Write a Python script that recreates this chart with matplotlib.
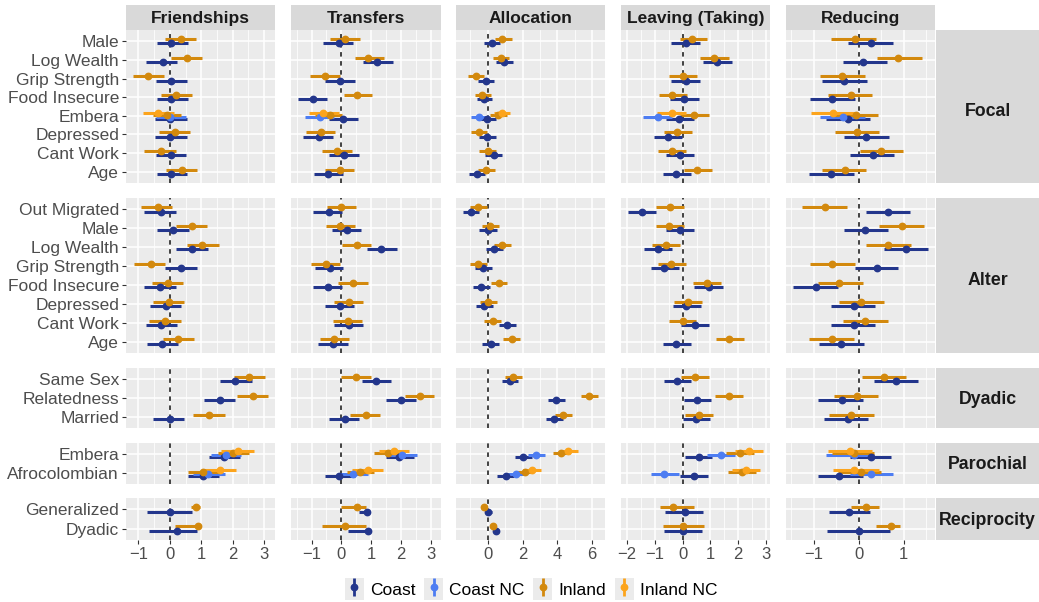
import numpy as np
import matplotlib.pyplot as plt
from matplotlib.lines import Line2D
from matplotlib.patches import Patch
from matplotlib.ticker import MultipleLocator

plt.rcParams['font.family'] = ['Liberation Sans', 'DejaVu Sans']

outcomes = ["Friendships", "Transfers", "Allocation", "Leaving (Taking)", "Reducing"]
groups = ["Focal", "Alter", "Dyadic", "Parochial", "Reciprocity"]
focal_vars = ["Male", "Log Wealth", "Grip Strength", "Food Insecure", "Embera",
              "Depressed", "Cant Work", "Age"]
alter_vars = ["Out Migrated", "Male", "Log Wealth", "Grip Strength", "Food Insecure",
              "Depressed", "Cant Work", "Age"]
dyadic_vars = ["Same Sex", "Relatedness", "Married"]
parochial_vars = ["Embera", "Afrocolombian"]
recip_vars = ["Generalized", "Dyadic"]
group_vars = [focal_vars, alter_vars, dyadic_vars, parochial_vars, recip_vars]

# rows that also have the "NC" series: (group, variable)
nc_rows = [("Focal", "Embera"), ("Parochial", "Embera"), ("Parochial", "Afrocolombian")]

series = ["Coast", "Coast NC", "Inland", "Inland NC"]
colors = {"Coast": "#23368c", "Coast NC": "#4d7df2", "Inland": "#d3890d", "Inland NC": "#fca41c"}

# (estimate, lower, upper), rows in order focal, alter, dyadic, parochial, reciprocity
friend_coast = [(0.05, -0.4, 0.58), (-0.21, -0.76, 0.24), (0.03, -0.45, 0.55), (0.05, -0.42, 0.58),
                (0.0, -0.47, 0.53), (0.0, -0.47, 0.53), (0.03, -0.45, 0.52), (0.05, -0.42, 0.56),
                (-0.28, -0.81, 0.19), (0.11, -0.4, 0.6), (0.71, 0.21, 1.21), (0.37, -0.14, 0.86),
                (-0.32, -0.82, 0.18), (-0.13, -0.63, 0.37), (-0.28, -0.77, 0.23), (-0.24, -0.72, 0.26),
                (2.07, 1.58, 2.6), (1.6, 1.1, 2.08), (0.02, -0.55, 0.45),
                (1.73, 1.26, 2.22), (1.04, 0.58, 1.55),
                (0.0, -0.74, 0.7), (0.24, -0.66, 0.86)]
friend_inland = [(0.37, -0.16, 0.84), (0.53, 0.03, 1.02), (-0.68, -1.18, -0.18), (0.18, -0.29, 0.71),
                 (-0.1, -0.55, 0.35), (0.16, -0.34, 0.65), (-0.29, -0.82, 0.19), (0.39, -0.13, 0.87),
                 (-0.39, -0.93, 0.08), (0.69, 0.19, 1.19), (1.02, 0.55, 1.55), (-0.61, -1.13, -0.14),
                 (-0.07, -0.58, 0.42), (-0.03, -0.53, 0.45), (-0.16, -0.65, 0.35), (0.26, -0.23, 0.77),
                 (2.53, 2.05, 3.02), (2.63, 2.14, 3.13), (1.26, 0.74, 1.74),
                 (2.0, 1.53, 2.53), (1.05, 0.58, 1.53),
                 (0.84, 0.68, 0.95), (0.89, 0.16, 0.95)]
friend_coast_nc = [(0.02, -0.45, 0.52), (1.78, 1.3, 2.25), (1.21, 0.74, 1.74)]
friend_inland_nc = [(-0.37, -0.86, 0.13), (2.16, 1.63, 2.68), (1.58, 1.05, 2.1)]

transfer_coast = [(-0.09, -0.6, 0.38), (1.2, 0.73, 1.73), (-0.06, -0.54, 0.44), (-0.96, -1.46, -0.48),
                  (0.06, -0.43, 0.55), (-0.74, -1.27, -0.28), (0.08, -0.4, 0.58), (-0.45, -0.93, 0.06),
                  (-0.43, -0.96, 0.02), (0.19, -0.31, 0.67), (1.34, 0.87, 1.85), (-0.39, -0.88, 0.06),
                  (-0.46, -0.96, 0.02), (-0.03, -0.56, 0.42), (0.25, -0.26, 0.73), (-0.29, -0.79, 0.21),
                  (1.17, 0.7, 1.67), (1.99, 1.48, 2.49), (0.11, -0.43, 0.58),
                  (1.93, 1.48, 2.43), (-0.09, -0.56, 0.44),
                  (0.87, 0.6, 0.95), (0.89, 0.22, 0.95)]
transfer_inland = [(0.13, -0.37, 0.64), (0.89, 0.44, 1.43), (-0.56, -1.04, -0.06), (0.53, 0.08, 1.03),
                   (-0.39, -0.88, 0.02), (-0.69, -1.18, -0.2), (-0.15, -0.65, 0.36), (-0.06, -0.54, 0.42),
                   (0.0, -0.48, 0.49), (-0.03, -0.52, 0.47), (0.51, 0.02, 1.0), (-0.52, -1.01, -0.03),
                   (0.38, -0.11, 0.89), (0.25, -0.26, 0.73), (0.21, -0.28, 0.7), (-0.24, -0.73, 0.25),
                   (0.49, 0.0, 0.98), (2.63, 2.13, 3.11), (0.83, 0.3, 1.29),
                   (1.55, 1.1, 2.05), (0.64, 0.2, 1.1),
                   (0.51, 0.0, 0.84), (0.13, -0.65, 0.84)]
transfer_coast_nc = [(-0.73, -1.21, -0.26), (2.02, 1.52, 2.55), (0.38, -0.09, 0.89)]
transfer_inland_nc = [(-0.6, -1.1, -0.09), (1.75, 1.25, 2.27), (0.89, 0.36, 1.39)]

alloc_coast = [(0.27, -0.21, 0.71), (0.94, 0.48, 1.44), (-0.1, -0.57, 0.38), (-0.21, -0.63, 0.27),
               (-0.02, -0.48, 0.48), (-0.06, -0.5, 0.46), (0.33, -0.15, 0.84), (-0.63, -1.07, -0.15),
               (-0.96, -1.44, -0.48), (0.0, -0.48, 0.52), (0.38, -0.1, 0.86), (-0.25, -0.73, 0.27),
               (-0.38, -0.86, 0.1), (-0.19, -0.67, 0.29), (1.13, 0.65, 1.61), (0.17, -0.34, 0.67),
               (1.28, 0.8, 1.76), (3.93, 3.49, 4.44), (3.81, 3.33, 4.31),
               (2.05, 1.57, 2.53), (1.03, 0.55, 1.51),
               (0.04, -0.15, 0.23), (0.48, 0.33, 0.61)]
alloc_inland = [(0.84, 0.42, 1.38), (0.77, 0.29, 1.25), (-0.67, -1.15, -0.19), (-0.31, -0.73, 0.19),
                (0.61, 0.13, 1.09), (-0.5, -0.96, -0.06), (0.0, -0.48, 0.48), (-0.1, -0.54, 0.42),
                (-0.57, -1.05, -0.06), (0.13, -0.34, 0.65), (0.84, 0.38, 1.34), (-0.54, -1.02, -0.06),
                (0.65, 0.17, 1.13), (0.04, -0.44, 0.52), (0.29, -0.19, 0.77), (1.38, 0.9, 1.86),
                (1.48, 1.0, 1.95), (5.84, 5.36, 6.36), (4.35, 3.87, 4.83),
                (4.21, 3.73, 4.71), (2.15, 1.67, 2.63),
                (-0.21, -0.35, -0.06), (0.29, 0.13, 0.42)]
alloc_coast_nc = [(-0.48, -0.96, -0.01), (2.76, 2.3, 3.3), (1.63, 1.15, 2.11)]
alloc_inland_nc = [(0.8, 0.33, 1.28), (4.64, 4.16, 5.2), (2.53, 2.05, 3.06)]

leave_coast = [(0.11, -0.41, 0.61), (1.22, 0.72, 1.76), (0.13, -0.41, 0.63), (0.03, -0.45, 0.59),
               (-0.13, -0.6, 0.41), (-0.54, -1.05, -0.03), (-0.09, -0.59, 0.41), (-0.23, -0.71, 0.29),
               (-1.46, -1.98, -0.96), (-0.09, -0.59, 0.42), (-0.9, -1.4, -0.39), (-0.66, -1.16, -0.15),
               (0.93, 0.42, 1.44), (0.13, -0.35, 0.66), (0.45, -0.05, 0.95), (-0.23, -0.71, 0.3),
               (-0.19, -0.69, 0.3), (0.53, 0.03, 1.02), (0.48, 0.0, 0.99),
               (0.57, 0.07, 1.07), (0.41, -0.09, 0.91),
               (0.09, -0.65, 0.72), (0.0, -0.69, 0.71)]
leave_inland = [(0.33, -0.11, 0.89), (1.14, 0.63, 1.67), (0.0, -0.48, 0.53), (-0.39, -0.87, 0.15),
                (0.41, -0.1, 0.93), (-0.19, -0.69, 0.33), (-0.39, -0.89, 0.11), (0.53, 0.03, 1.05),
                (-0.45, -0.95, 0.03), (-0.48, -0.96, 0.03), (-0.6, -1.11, -0.11), (-0.41, -0.9, 0.11),
                (0.87, 0.36, 1.37), (0.19, -0.3, 0.69), (0.0, -0.51, 0.48), (1.68, 1.2, 2.2),
                (0.45, -0.05, 0.96), (1.68, 1.16, 2.18), (0.59, 0.09, 1.1),
                (2.06, 1.56, 2.57), (2.12, 1.64, 2.63),
                (-0.36, -0.83, 0.42), (0.0, -0.71, 0.75)]
leave_coast_nc = [(-0.9, -1.43, -0.39), (1.37, 0.89, 1.88), (-0.66, -1.14, -0.15)]
leave_inland_nc = [(-0.4, -0.92, 0.1), (2.38, 1.88, 2.9), (2.28, 1.77, 2.78)]

reduce_coast = [(0.27, -0.24, 0.76), (0.1, -0.35, 0.63), (-0.32, -0.81, 0.18), (-0.59, -1.08, -0.09),
                (-0.24, -0.72, 0.26), (0.17, -0.32, 0.68), (0.31, -0.2, 0.79), (-0.61, -1.09, -0.11),
                (0.66, 0.16, 1.14), (0.15, -0.33, 0.66), (1.04, 0.55, 1.54), (0.4, -0.09, 0.88),
                (-0.94, -1.46, -0.46), (-0.11, -0.61, 0.37), (-0.11, -0.61, 0.37), (-0.39, -0.88, 0.11),
                (0.82, 0.35, 1.32), (-0.38, -0.9, 0.09), (-0.24, -0.77, 0.21),
                (0.27, -0.2, 0.72), (-0.43, -0.9, 0.09),
                (-0.22, -0.65, 0.24), (0.0, -0.7, 0.7)]
reduce_inland = [(-0.09, -0.61, 0.38), (0.88, 0.4, 1.4), (-0.38, -0.86, 0.13), (-0.18, -0.68, 0.29),
                 (-0.07, -0.55, 0.42), (-0.04, -0.53, 0.46), (0.49, 0.02, 0.99), (-0.31, -0.81, 0.17),
                 (-0.75, -1.26, -0.27), (0.97, 0.46, 1.45), (0.64, 0.17, 1.15), (-0.6, -1.08, -0.09),
                 (-0.43, -0.9, 0.09), (0.06, -0.43, 0.57), (0.15, -0.35, 0.64), (-0.6, -1.1, -0.11),
                 (0.55, 0.07, 1.05), (-0.04, -0.55, 0.43), (-0.16, -0.66, 0.33),
                 (-0.11, -0.6, 0.35), (0.04, -0.45, 0.5),
                 (0.17, -0.16, 0.46), (0.71, 0.38, 0.92)]
reduce_coast_nc = [(-0.35, -0.86, 0.15), (-0.1, -0.72, 0.35), (0.28, -0.2, 0.76)]
reduce_inland_nc = [(-0.57, -1.06, -0.07), (-0.2, -0.68, 0.3), (-0.11, -0.58, 0.45)]

data = {
    "Friendships": [friend_coast, friend_coast_nc, friend_inland, friend_inland_nc],
    "Transfers": [transfer_coast, transfer_coast_nc, transfer_inland, transfer_inland_nc],
    "Allocation": [alloc_coast, alloc_coast_nc, alloc_inland, alloc_inland_nc],
    "Leaving (Taking)": [leave_coast, leave_coast_nc, leave_inland, leave_inland_nc],
    "Reducing": [reduce_coast, reduce_coast_nc, reduce_inland, reduce_inland_nc],
}
x_steps = [1, 1, 2, 1, 1]

# layout (pixels)
W, H = 1039, 602
col_x = [(126, 275), (291, 441), (456, 605), (621, 770), (786, 935)]
row_y = [(30, 183), (198, 353), (368, 428), (443, 484), (498, 540)]


def px_rect(x0, x1, y0, y1):
    return [x0 / W, 1 - y1 / H, (x1 - x0) / W, (y1 - y0) / H]


def strip(rect, label, size):
    sx = fig.add_axes(rect)
    sx.set_facecolor("#d9d9d9")
    sx.set_xticks([])
    sx.set_yticks([])
    for s in sx.spines.values():
        s.set_visible(False)
    sx.text(0.5, 0.47, label, ha="center", va="center", fontsize=size,
            fontweight="bold", color="#1a1a1a", transform=sx.transAxes)


fig = plt.figure(figsize=(W / 100, H / 100), dpi=100)

dodge = 0.46
for j, out in enumerate(outcomes):
    coast, coast_nc, inland, inland_nc = data[out]
    # ggplot-like 5% expansion of the data range
    allv = [t for s in data[out] for t in s]
    lo = min(t[1] for t in allv)
    hi = max(t[2] for t in allv)
    pad = 0.05 * (hi - lo)
    xlim = (lo - pad, hi + pad)

    strip(px_rect(col_x[j][0], col_x[j][1], 5, 30), out, 12.5)

    r = 0
    nc_i = 0
    for g, gname in enumerate(groups):
        vars_ = group_vars[g]
        n = len(vars_)
        ax = fig.add_axes(px_rect(col_x[j][0], col_x[j][1], row_y[g][0], row_y[g][1]))
        ax.set_facecolor("#ebebeb")
        for s in ax.spines.values():
            s.set_visible(False)
        ax.xaxis.set_major_locator(MultipleLocator(x_steps[j]))
        ax.xaxis.set_minor_locator(MultipleLocator(x_steps[j] / 2))
        ax.grid(True, which="major", color="white", lw=1.1)
        ax.grid(True, which="minor", axis="x", color="white", lw=0.55)
        ax.set_axisbelow(True)
        ax.set_yticks(np.arange(n, 0, -1))
        if j == 0:
            ax.set_yticklabels(vars_, fontsize=12.5, color="#4d4d4d")
        else:
            ax.set_yticklabels([])
        ax.tick_params(axis="y", length=3, width=0.8, color="#333333", pad=2,
                       left=(j == 0))
        ax.tick_params(axis="x", which="minor", length=0)
        ax.set_xlim(*xlim)
        ax.set_ylim(0.4, n + 0.6)
        if g == len(groups) - 1:
            ax.tick_params(axis="x", which="major", length=3, width=0.8,
                           color="#333333", labelsize=12, labelcolor="#4d4d4d", pad=2)
            ticks = [v for v in ax.get_xticks() if xlim[0] <= v <= xlim[1]]
            ax.set_xticks(ticks)
            ax.set_xticklabels([("\u2212%d" % -v if v < 0 else "%d" % v) for v in ticks])
            ax.set_xlim(*xlim)
        else:
            ax.tick_params(axis="x", which="major", length=0, labelbottom=False)

        ax.axvline(0, color="#333333", lw=1.3, ls=(0, (2.5, 2.5)), zorder=1)

        for k, var in enumerate(vars_):
            y = n - k
            if (gname, var) in nc_rows:
                rows = [(coast[r], "Coast"), (coast_nc[nc_i], "Coast NC"),
                        (inland[r], "Inland"), (inland_nc[nc_i], "Inland NC")]
                offs = [-3 * dodge / 8, -dodge / 8, dodge / 8, 3 * dodge / 8]
                nc_i += 1
            else:
                rows = [(coast[r], "Coast"), (inland[r], "Inland")]
                offs = [-dodge / 4, dodge / 4]
            for ((est, l, h), name), o in zip(rows, offs):
                ax.hlines(y + o, l, h, color=colors[name], lw=2.2, zorder=3)
                ax.plot(est, y + o, "o", color=colors[name], ms=4.6, zorder=4)
            r += 1

        if j == len(outcomes) - 1:
            strip(px_rect(936, 1039, row_y[g][0], row_y[g][1]), gname, 12.8)

handles = []
for name in series:
    handles.append((Patch(facecolor="#ebebeb", edgecolor="none"),
                    Line2D([], [], color=colors[name], marker="|", ls="none",
                           ms=13, mew=2.0),
                    Line2D([], [], color=colors[name], marker="o", ls="none", ms=4.6)))
fig.legend(handles, series, loc="center", bbox_to_anchor=(531 / W, 1 - 589 / H),
           ncol=4, frameon=False, fontsize=12.5, handlelength=1.1, handleheight=1.5,
           handletextpad=0.35, columnspacing=0.5)

fig.savefig("out.png", dpi=100)
